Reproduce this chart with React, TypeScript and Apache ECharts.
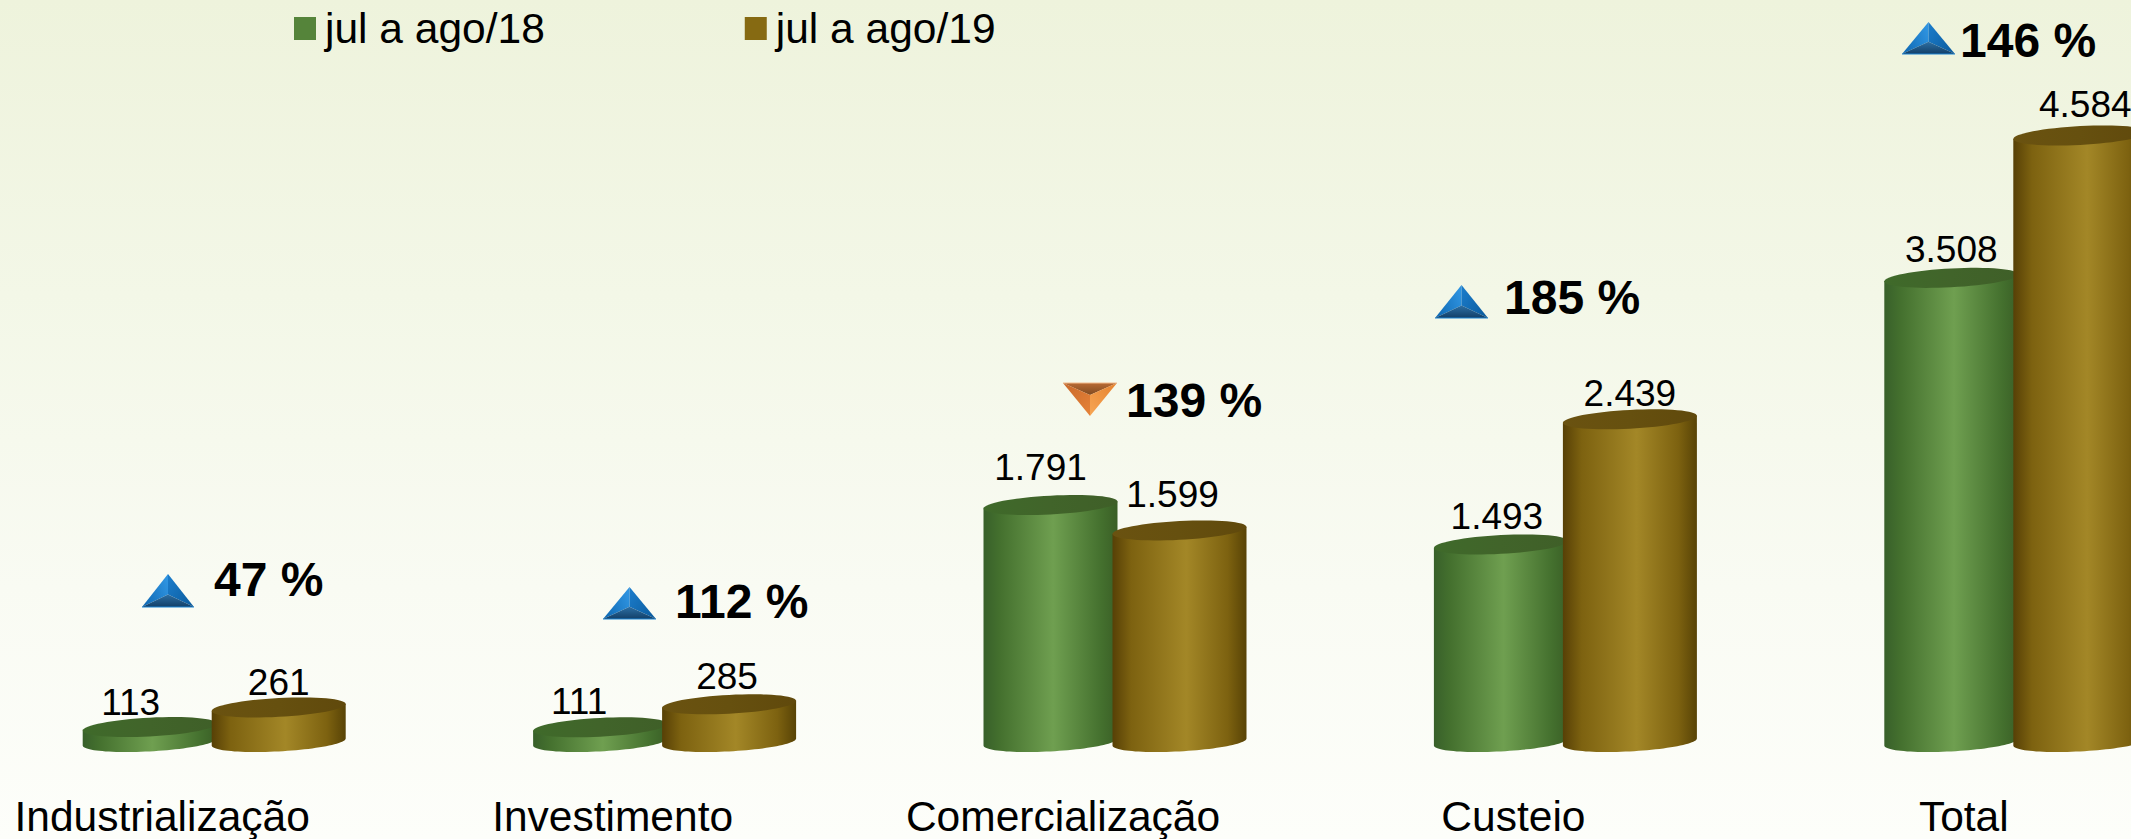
import React, { useEffect, useRef } from "react";
import * as echarts from "echarts";

const categories = ["Industrialização", "Investimento", "Comercialização", "Custeio", "Total"];
const seriesNames = ["jul a ago/18", "jul a ago/19"];
const values2018 = [113, 111, 1791, 1493, 3508];
const values2019 = [261, 285, 1599, 2439, 4584];
const changeLabels = ["47 %", "112 %", "139 %", "185 %", "146 %"];
const changeDirections = ["up", "up", "down", "up", "up"];

const fmt = (v: number) => (v >= 1000 ? `${Math.floor(v / 1000)}.${String(v % 1000).padStart(3, "0")}` : String(v));

const FONT = '"Liberation Sans", Arial, sans-serif';
const HALF_W = 67;
const TILT = 7 / 134;
const B = 9.4;

function ellipsePoint(cx: number, cy: number, t: number): number[] {
  const ex = HALF_W * Math.cos(t);
  const ey = B * Math.sin(t);
  return [cx + ex, cy + ey - ex * TILT];
}
function arcPoints(cx: number, cy: number, from: number, to: number, n = 48): number[][] {
  const pts: number[][] = [];
  for (let i = 0; i <= n; i++) pts.push(ellipsePoint(cx, cy, from + ((to - from) * i) / n));
  return pts;
}
const hGrad = (stops: [number, string][]) => ({
  type: "linear", x: 0, y: 0, x2: 1, y2: 0,
  colorStops: stops.map(([offset, color]) => ({ offset, color })),
});

const palette = [
  {
    legend: "#55843a",
    top: hGrad([[0, "#3f6a2a"], [0.5, "#41642a"], [1, "#3f5f28"]]),
    body: hGrad([[0, "#38602a"], [0.12, "#44702e"], [0.52, "#6f9f50"], [0.88, "#44702e"], [1, "#3a5f26"]]),
  },
  {
    legend: "#866a12",
    top: hGrad([[0, "#6a5210"], [0.5, "#66500f"], [1, "#60490c"]]),
    body: hGrad([[0, "#574006"], [0.14, "#7d6210"], [0.55, "#a38727"], [0.86, "#7d6210"], [1, "#584306"]]),
  },
];

const labelDx = [[-19, -21, -10, -4, 0], [0, -2, -7, 0, 5]];
const labelGap = [[-1, 0, 12, 2, 3], [-1, 2, 10, 0, 5]];

function cylinderSeries(name: string, values: number[], idx: number) {
  const shift = idx === 0 ? -64.5 : 64.5;
  return {
    type: "custom",
    name,
    z: 2 + idx,
    clip: false,
    data: values.map((v, i) => [i, v]),
    encode: { x: 0, y: 1 },
    itemStyle: { color: palette[idx].legend },
    renderItem: (_p: any, api: any) => {
      const i = api.value(0);
      const v = api.value(1);
      const top = api.coord([i, v]);
      const base = api.coord([i, 0]);
      const cx = top[0] + shift;
      const body = [ellipsePoint(cx, top[1], Math.PI), ...arcPoints(cx, base[1], Math.PI, 0), ellipsePoint(cx, top[1], 0)];
      return {
        type: "group",
        children: [
          { type: "polygon", shape: { points: body }, style: { fill: palette[idx].body } },
          { type: "polygon", shape: { points: arcPoints(cx, top[1], 0, Math.PI * 2, 64) }, style: { fill: palette[idx].top } },
          {
            type: "text",
            style: {
              x: cx + labelDx[idx][i],
              y: top[1] - 10 - labelGap[idx][i] + 3,
              text: fmt(v),
              align: "center",
              verticalAlign: "bottom",
              fontSize: 37,
              fontFamily: FONT,
              fill: "#000",
            },
          },
        ],
      };
    },
  };
}

const grad = (x: number, y: number, x2: number, y2: number, a: string, b: string) => ({
  type: "linear", x, y, x2, y2,
  colorStops: [{ offset: 0, color: a }, { offset: 1, color: b }],
});

function triangle(dir: string, x: number, y: number, w: number, h: number) {
  const cx = x + w / 2;
  if (dir === "up") {
    const c = [cx, y + h * 0.62];
    const a = [cx, y], l = [x, y + h], r = [x + w, y + h];
    return [
      { type: "polygon", shape: { points: [a, c, l] }, style: { fill: grad(1, 0.3, 0, 0.8, "#2e93e0", "#0f69b3") } },
      { type: "polygon", shape: { points: [a, r, c] }, style: { fill: grad(0, 0.2, 1, 1, "#1a7ac8", "#0b5a9b") } },
      { type: "polygon", shape: { points: [l, c, r] }, style: { fill: grad(0, 0, 0, 1, "#2d6fa3", "#123f68") } },
      { type: "line", shape: { x1: x, y1: y + h, x2: x + w, y2: y + h }, style: { stroke: "#1c84d2", lineWidth: 1.2 } },
    ];
  }
  const c = [cx, y + h * 0.36];
  const a = [cx, y + h], l = [x, y], r = [x + w, y];
  return [
    { type: "polygon", shape: { points: [l, r, c] }, style: { fill: grad(0, 0, 0, 1, "#b86a34", "#7f4a20") } },
    { type: "polygon", shape: { points: [l, c, a] }, style: { fill: grad(0, 0, 1, 1, "#c9692b", "#e58238") } },
    { type: "polygon", shape: { points: [r, a, c] }, style: { fill: grad(1, 0, 0, 1, "#e5822f", "#f7a654") } },
    { type: "line", shape: { x1: x, y1: y, x2: x + w, y2: y }, style: { stroke: "#f2b98c", lineWidth: 1.2 } },
  ];
}

function changeMark(i: number, tx: number, ty: number, tw: number, th: number, lx: number, ly: number) {
  return {
    type: "group",
    silent: true,
    children: [
      ...triangle(changeDirections[i], tx, ty, tw, th),
      {
        type: "text",
        x: lx,
        y: ly,
        style: { text: changeLabels[i], fontSize: 48, fontWeight: "bold", fontFamily: FONT, fill: "#000", align: "left", verticalAlign: "middle" },
      },
    ],
  };
}

export default function App() {
  const ref = useRef<HTMLDivElement>(null);
  useEffect(() => {
    const chart = echarts.init(ref.current!, undefined, { renderer: "svg" });
    chart.setOption({
      animation: false,
      backgroundColor: {
        type: "linear", x: 0, y: 0, x2: 0, y2: 1,
        colorStops: [
          { offset: 0, color: "#eef3dc" },
          { offset: 0.35, color: "#f3f7e7" },
          { offset: 0.7, color: "#f9fbf3" },
          { offset: 1, color: "#fdfefa" },
        ],
      },
      legend: {
        left: 289,
        top: 2,
        itemWidth: 22,
        itemHeight: 23,
        itemGap: 200,
        selectedMode: false,
        textStyle: { fontSize: 42.5, fontFamily: FONT, color: "#000", padding: [0, 0, 0, 4] },
        data: seriesNames.map((name, i) => ({ name, icon: "rect", itemStyle: { color: palette[i].legend } })),
      },
      grid: { left: -11, top: 0, width: 2252, height: 742, outerBoundsMode: "none", containLabel: false },
      xAxis: {
        type: "category",
        data: categories,
        axisLine: { show: false },
        axisTick: { show: false },
        axisLabel: { interval: 0, fontSize: 42.5, fontFamily: FONT, color: "#000", margin: 53, padding: [0, 104, 0, 0] },
      },
      yAxis: { type: "value", min: 0, max: 5608, show: false, splitLine: { show: false } },
      series: [cylinderSeries(seriesNames[0], values2018, 0), cylinderSeries(seriesNames[1], values2019, 1)],
      graphic: [
        changeMark(0, 142, 574, 52, 33, 214, 579),
        changeMark(1, 603, 587, 53, 32, 675, 601),
        changeMark(2, 1063, 383, 54, 33, 1126, 400),
        changeMark(3, 1435, 285, 53, 33, 1504, 297),
        changeMark(4, 1902, 22, 53, 32, 1960, 40),
      ],
    });
    return () => chart.dispose();
  }, []);
  return <div ref={ref} style={{ position: "fixed", left: 0, top: 0, width: 2131, height: 839 }} />;
}
